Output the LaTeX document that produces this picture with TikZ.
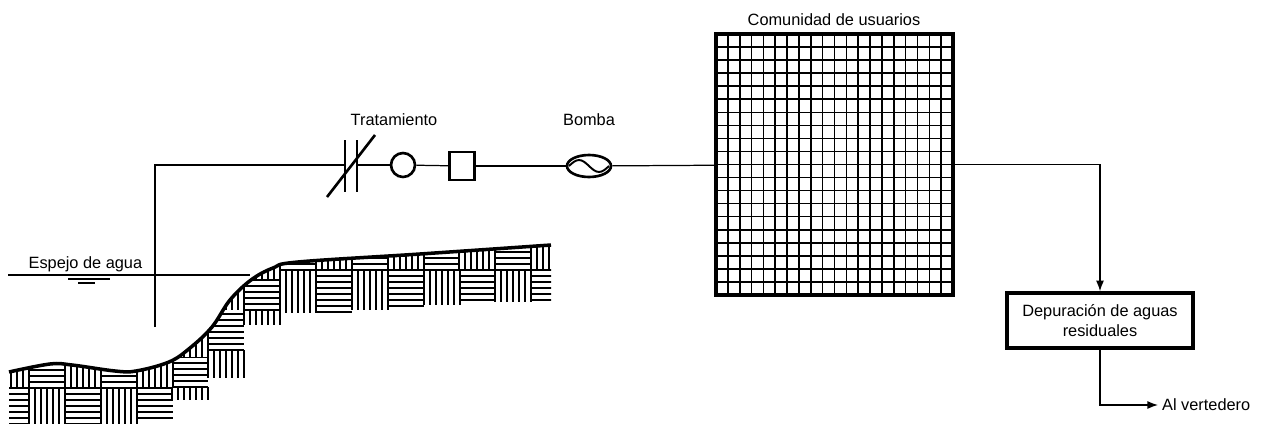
\documentclass[tikz,border=0pt]{standalone}
\usepackage{fontspec}
\setmainfont{Liberation Sans}
\usetikzlibrary{shapes.geometric,arrows.meta}

% hatched soil blocks: x, top, bottom
\newcommand{\hatchH}[3]{%
  \begin{scope}
    \clip (#1,#2-0.5) rectangle (#1+36,#3+0.5);
    \foreach \t in {0,6,...,60} \draw[line width=0.8pt] (#1,#3-\t) -- (#1+36,#3-\t);
  \end{scope}}
\newcommand{\hatchV}[3]{%
  \foreach \t in {0,6,...,36} \draw[line width=0.8pt] (#1+\t,#2) -- (#1+\t,#3);}

\begin{document}
\begin{tikzpicture}[x=0.02cm,y=-0.02cm,line width=0.7pt,
    font=\fontsize{9.3}{11.3}\selectfont,
    pieza/.style={draw,line width=1.5pt,inner sep=0pt},
    flecha/.style={-{Latex[length=6pt,width=4.5pt]}}]
\useasboundingbox (0,0) rectangle (1264,423);

% terreno
\begin{scope}
  \clip plot[smooth,tension=0.6] coordinates {(9,372) (50,364) (72,365) (115,371) (136,371) (169,362) (190,348) (212,327) (230,300) (251,280) (273,268) (298,262) (420,254) (551,245)} -- (551,430) -- (9,430) -- cycle;
  \hatchV{-7}{340}{388} \hatchH{-7}{388}{424}
  \hatchH{29}{340}{388} \hatchV{29}{388}{424}
  \hatchV{65}{340}{388} \hatchH{65}{388}{424}
  \hatchH{101}{340}{388} \hatchV{101}{388}{424}
  \hatchV{137}{340}{388} \hatchH{137}{388}{418}
  \hatchV{172}{320}{358} \hatchH{172}{358}{387} \hatchV{172}{387}{400}
  \hatchV{208}{280}{310} \hatchH{208}{310}{350} \hatchV{208}{350}{378}
  \hatchV{244}{250}{280} \hatchH{244}{280}{310} \hatchV{244}{310}{325}
  \hatchH{280}{240}{270} \hatchV{280}{270}{313}
  \hatchV{316}{240}{270} \hatchH{316}{270}{312}
  \hatchH{352}{240}{270} \hatchV{352}{270}{310}
  \hatchV{388}{240}{270} \hatchH{388}{270}{306}
  \hatchH{424}{230}{270} \hatchV{424}{270}{305}
  \hatchV{459}{230}{270} \hatchH{459}{270}{300}
  \hatchH{495}{230}{270} \hatchV{495}{270}{302}
  \hatchV{531}{230}{270} \hatchH{531}{270}{300}
\end{scope}
\draw[line width=2pt] plot[smooth,tension=0.6] coordinates {(9,372) (50,364) (72,365) (115,371) (136,371) (169,362) (190,348) (212,327) (230,300) (251,280) (273,268) (298,262) (420,254) (551,245)};

% nivel del agua
\coordinate (espejoW) at (8,275);
\coordinate (espejoE) at (250,275);
\draw (espejoW) -- (espejoE);
\node[anchor=base west,inner sep=0pt] (espejo) at (28,268) {Espejo de agua};
\draw (68,279) -- (110,279);
\draw (78,283) -- (95,283);

% tratamiento y bombeo
\coordinate (toma) at (155,327);
\coordinate (valvulaW) at (345,165);
\coordinate (valvulaE) at (357,165);
\draw[line width=1.5pt] (345,140) -- (345,192);
\draw[line width=1.5pt] (357,140) -- (357,192);
\draw[line width=1.5pt] (327,197) -- (375,135);
\node[pieza,circle,minimum size=0.48cm] (filtro) at (403,165) {};
\node[pieza,minimum width=0.5cm,minimum height=0.56cm] (tanque) at (462,166) {};
\node[pieza,ellipse,minimum width=0.88cm,minimum height=0.44cm] (bomba) at (589,166) {};
\draw[line width=1.1pt,shift={(bomba.center)}] (-20,0) sin (-10,-6) cos (0,0) sin (10,6) cos (20,0);
\node (tratamiento) at (394,120) {Tratamiento};
\node (rotBomba) at (589,120) {Bomba};

% comunidad
\node[draw,line width=2pt,minimum width=4.74cm,minimum height=5.22cm,inner sep=0pt] (usuarios) at (834.5,164.5) {};
\foreach \i in {1,...,19} {
  \draw[line width=0.9pt] (716+\i*11.85,34) -- (716+\i*11.85,295);
  \draw[line width=0.9pt] (716,34+\i*13.05) -- (953,34+\i*13.05);
}
\node (rotUsuarios) at (834,20) {Comunidad de usuarios};

\node[draw,line width=2pt,minimum width=3.72cm,minimum height=1.1cm,align=center] (depuracion) at (1100,320.5) {Depuraci\'on de aguas\\residuales};
\node[anchor=west,inner sep=2pt] (vertedero) at (1158,405) {Al vertedero};

% conducciones
\draw (toma) |- (valvulaW);
\draw (valvulaE) -- (filtro);
\draw (filtro) -- (tanque);
\draw (tanque) -- (bomba);
\draw (bomba) -- (usuarios);
\draw[flecha] (usuarios.east) -| (depuracion.north);
\draw[flecha] (depuracion.south) |- (vertedero.west);
\end{tikzpicture}
\end{document}
